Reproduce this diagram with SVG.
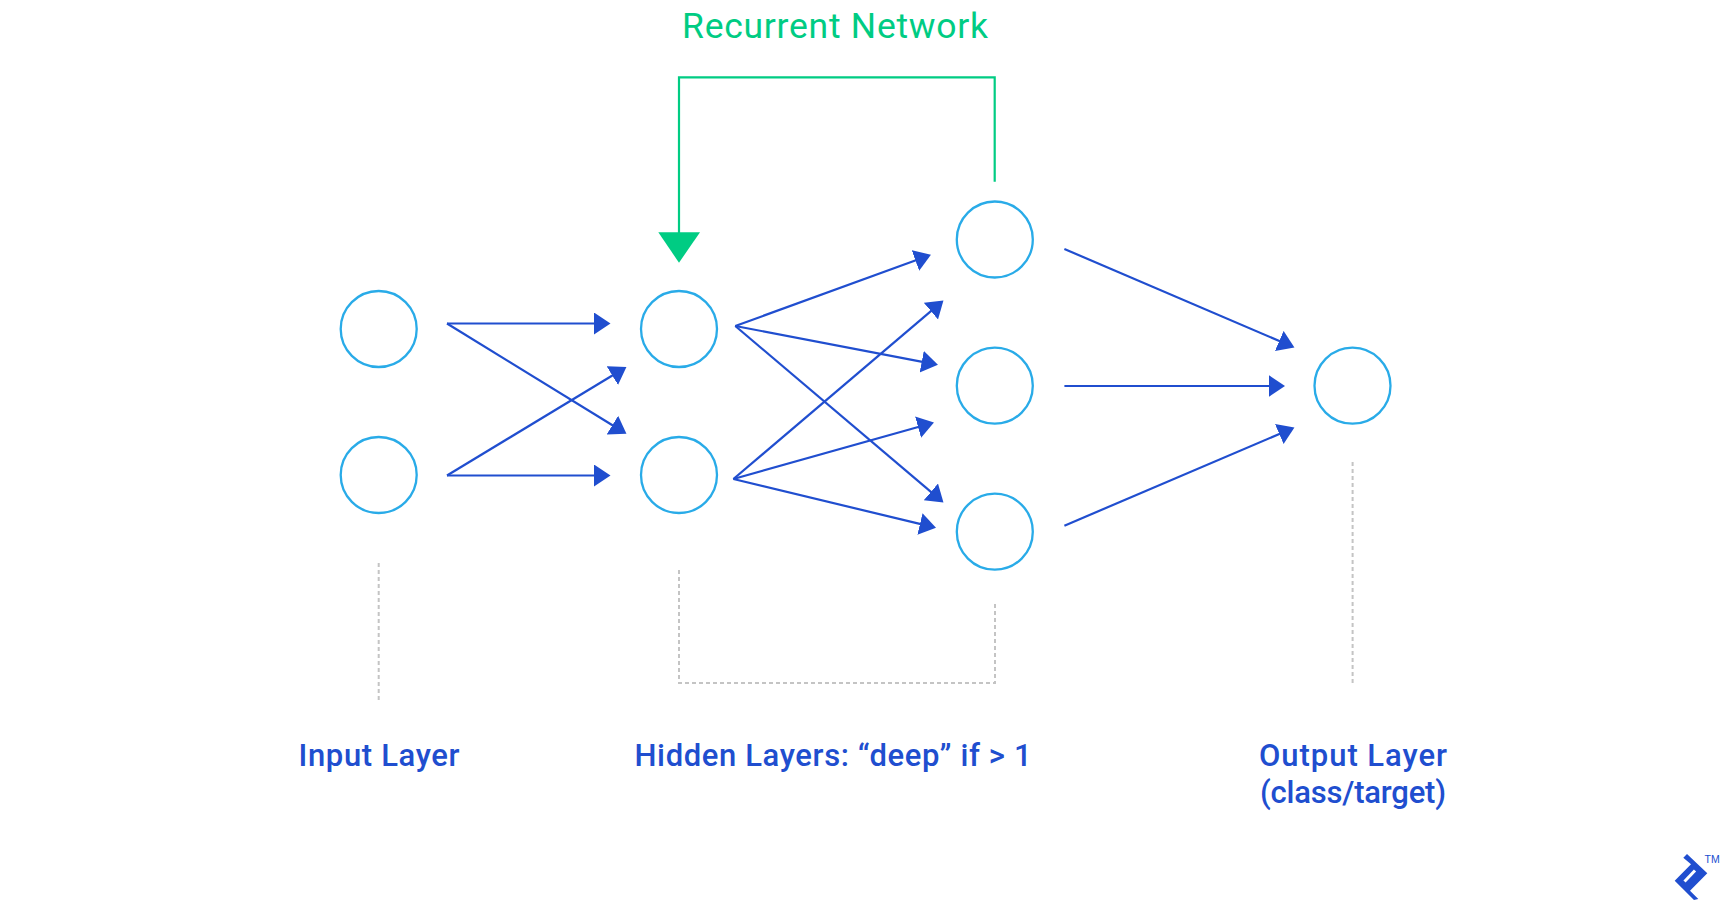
<svg xmlns="http://www.w3.org/2000/svg" width="1720" height="900" viewBox="0 0 1720 900">
<style>
.node{fill:none;stroke:#29abe8;stroke-width:2.3}
.edge{fill:none;stroke:#204ecf;stroke-width:2.2;marker-end:url(#arrow)}
.guide{fill:none;stroke:#c4c4c4;stroke-width:2;stroke-dasharray:4 3}
.rec{fill:none;stroke:#00cc83;stroke-width:2.2}
.blue{font-family:"Roboto","Liberation Sans",sans-serif;font-size:31px;font-weight:500;fill:#204ecf;text-anchor:middle}
.green{font-family:"Roboto","Liberation Sans",sans-serif;font-size:35.5px;font-weight:400;fill:#00cc83;text-anchor:middle}
</style>
<defs>
<marker id="arrow" markerUnits="userSpaceOnUse" markerWidth="20" markerHeight="24" refX="2" refY="11" orient="auto"><path d="M0,0L16.5,11L0,22Z" fill="#204ecf"/></marker>
</defs>
<rect width="1720" height="900" fill="#fff"/>
<g id="connectors">
<path class="edge" d="M447,323.5H596"/>
<path class="edge" d="M447,323.5L614.1,426.2"/>
<path class="edge" d="M447,475.5L614,374.5"/>
<path class="edge" d="M447,475.5H596"/>
<path class="edge" d="M735.3,326L917.3,259.8"/>
<path class="edge" d="M735.3,326L923.7,362.1"/>
<path class="edge" d="M735.3,326L932.4,493.2"/>
<path class="edge" d="M733.4,479L932.4,309.8"/>
<path class="edge" d="M733.4,479L920,426.5"/>
<path class="edge" d="M733.4,479L921.9,524.4"/>
<path class="edge" d="M1064.4,249L1281.1,341.8"/>
<path class="edge" d="M1064.4,386H1270.5"/>
<path class="edge" d="M1064.4,525.7L1281.1,433.2"/>
<path class="rec" d="M994.7,181.7V77.3H679V235"/>
<path d="M658.3,232.3H700L679,262.7Z" fill="#00cc83"/>
<path class="guide" d="M378.7,563V702"/>
<path class="guide" d="M679,570V683H995V603"/>
<path class="guide" d="M1352.6,462V683"/>
</g>
<g id="node-input-1"><circle class="node" cx="378.7" cy="329" r="38"/></g>
<g id="node-input-2"><circle class="node" cx="378.7" cy="475" r="38"/></g>
<g id="node-hidden1-1"><circle class="node" cx="679" cy="329" r="38"/></g>
<g id="node-hidden1-2"><circle class="node" cx="679" cy="475" r="38"/></g>
<g id="node-hidden2-1"><circle class="node" cx="994.8" cy="239.5" r="38"/></g>
<g id="node-hidden2-2"><circle class="node" cx="994.8" cy="385.7" r="38"/></g>
<g id="node-hidden2-3"><circle class="node" cx="994.8" cy="531.7" r="38"/></g>
<g id="node-output"><circle class="node" cx="1352.5" cy="385.7" r="38"/></g>
<g id="labels">
<text class="green" x="835" y="37.7" textLength="306" lengthAdjust="spacing">Recurrent Network</text>
<text class="blue" x="379" y="766" textLength="161" lengthAdjust="spacing">Input Layer</text>
<text class="blue" x="833" y="766" textLength="397" lengthAdjust="spacing">Hidden Layers: “deep” if &gt; 1</text>
<text class="blue" x="1353" y="766" textLength="188" lengthAdjust="spacing">Output Layer</text>
<text class="blue" x="1353" y="803" textLength="186" lengthAdjust="spacing">(class/target)</text>
</g>
<g id="logo">
<path d="M1687,854L1707.3,873.3L1690,890.7L1698.3,899L1694,900L1674.7,880.7L1691,864.3L1683.3,857.7Z" fill="#204ecf"/>
<path d="M1684.5,881.5L1695,870.5" stroke="#fff" stroke-width="3" fill="none"/>
<text x="1704.5" y="862.5" font-family="'Liberation Sans',sans-serif" font-size="10.5" fill="#204ecf">TM</text>
</g>
</svg>
